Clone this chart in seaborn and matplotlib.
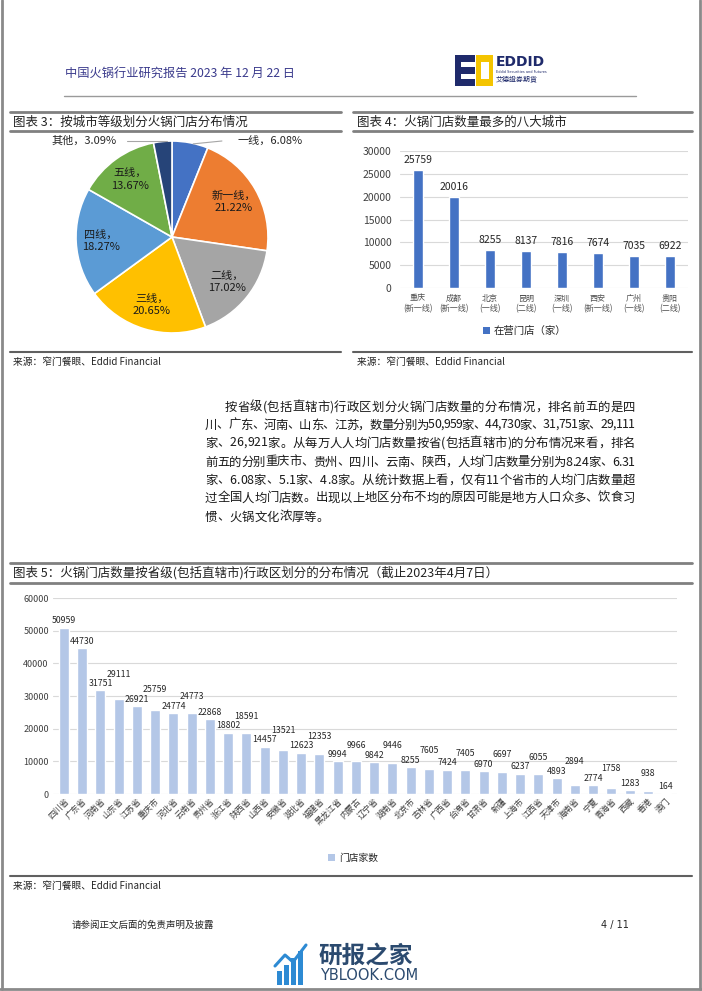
import matplotlib
matplotlib.use("Agg")
import matplotlib.pyplot as plt
import seaborn as sns
import pandas as pd
import numpy as np
from matplotlib.patches import Rectangle
from matplotlib.lines import Line2D

# ---------------- data ----------------
tier_labels = ['一线', '新一线', '二线', '三线', '四线', '五线', '其他']
tier_share = [6.08, 21.22, 17.02, 20.65, 18.27, 13.67, 3.09]
tier_colors = ['#4472C4', '#ED7D31', '#A5A5A5', '#FFC000', '#5B9BD5', '#70AD47', '#264478']

city_names = ['重庆', '成都', '北京', '昆明', '深圳', '西安', '广州', '贵阳']
city_tiers = ['新一线', '新一线', '一线', '二线', '一线', '新一线', '一线', '二线']
city_stores = [25759, 20016, 8255, 8137, 7816, 7674, 7035, 6922]
city_ticks = [0, 5000, 10000, 15000, 20000, 25000, 30000]

provinces = ['四川省', '广东省', '河南省', '山东省', '江苏省', '重庆市', '河北省', '云南省',
             '贵州省', '浙江省', '陕西省', '山西省', '安徽省', '湖北省', '福建省', '黑龙江省',
             '内蒙古', '辽宁省', '湖南省', '北京市', '吉林省', '广西省', '台湾省', '甘肃省',
             '新疆', '上海市', '江西省', '天津市', '海南省', '宁夏', '青海省', '西藏', '香港', '澳门']
province_stores = [50959, 44730, 31751, 29111, 26921, 25759, 24774, 24773, 22868, 18802,
                   18591, 14457, 13521, 12623, 12353, 9994, 9966, 9842, 9446, 8255,
                   7605, 7424, 7405, 6970, 6697, 6237, 6055, 4893, 2894, 2774,
                   1758, 1283, 938, 164]
province_ticks = [0, 10000, 20000, 30000, 40000, 50000, 60000]

paragraph = [
    "按省级(包括直辖市)行政区划分火锅门店数量的分布情况，排名前五的是四",
    "川、广东、河南、山东、江苏，数量分别为50,959家、44,730家、31,751家、29,111",
    "家、26,921家。从每万人人均门店数量按省(包括直辖市)的分布情况来看，排名",
    "前五的分别重庆市、贵州、四川、云南、陕西，人均门店数量分别为8.24家、6.31",
    "家、6.08家、5.1家、4.8家。从统计数据上看，仅有11个省市的人均门店数量超",
    "过全国人均门店数。出现以上地区分布不均的原因可能是地方人口众多、饮食习",
    "惯、火锅文化浓厚等。",
]

# ---------------- setup ----------------
sns.set_theme(style="white")
plt.rcParams['font.family'] = ['Noto Sans CJK SC', 'DejaVu Sans']

W, H = 702, 991
fig = plt.figure(figsize=(W / 100, H / 100), dpi=100)
fig.patch.set_facecolor('white')
renderer = fig.canvas.get_renderer()


def fx(x):
    return x / W


def fy(y):
    return 1 - y / H


def ax_px(l, t, r, b):
    return fig.add_axes([fx(l), fy(b), (r - l) / W, (b - t) / H])


def hline(x0, x1, y, lw=1.5, color='#7f7f7f'):
    fig.add_artist(Line2D([fx(x0), fx(x1)], [fy(y), fy(y)], lw=lw, color=color,
                          transform=fig.transFigure))


def vline(x, y0, y1, lw=1.5, color='#7f7f7f'):
    fig.add_artist(Line2D([fx(x), fx(x)], [fy(y0), fy(y1)], lw=lw, color=color,
                          transform=fig.transFigure))


def text(x, y, s, **kw):
    kw.setdefault('va', 'center')
    return fig.text(fx(x), fy(y), s, **kw)


def rect(x0, y0, x1, y1, color):
    fig.add_artist(Rectangle((fx(x0), fy(y1)), (x1 - x0) / W, (y1 - y0) / H,
                             facecolor=color, edgecolor='none', transform=fig.transFigure))


def char_width(ch, fs):
    t = fig.text(0, 0, ch, fontsize=fs)
    w = t.get_window_extent(renderer).width
    t.remove()
    return w


def justified(x0, x1, y, s, fs, color, justify=True):
    ws = [char_width(ch, fs) for ch in s]
    gap = (x1 - x0 - sum(ws)) / (len(s) - 1) if justify else 0.0
    x = x0
    for ch, w in zip(s, ws):
        text(x, y, ch, fontsize=fs, color=color, ha='left')
        x += w + gap


# page border
vline(1.5, 0, 989, lw=2, color='#8a8a8a')
vline(700, 0, 989, lw=2, color='#8a8a8a')
hline(0, 702, 989, lw=2, color='#8a8a8a')

# ---------------- header ----------------
text(65, 73, "中国火锅行业研究报告 2023 年 12 月 22 日", fontsize=8.8, color='#3a3a8c')
hline(64, 636, 96, lw=1.0, color='#9a9a9a')
# logo
rect(455, 55, 475, 86, '#1f2a6b')
rect(461, 62, 475, 67, 'white')
rect(461, 74, 475, 79, 'white')
rect(476, 55, 493, 86, '#f4c400')
rect(481, 62, 489, 79, 'white')
text(496, 62, "EDDID", fontsize=10, fontweight='bold', color='#1f2a6b', family=['DejaVu Sans'])
text(496, 72, "Eddid Securities and Futures", fontsize=2.5, color='#1f2a6b', family=['DejaVu Sans'])
text(496, 80, "艾德證券期貨", fontsize=5, color='#1f2a6b')

# ---------------- chart 3 frame ----------------
hline(10, 341, 112, lw=2, color='#808080')
text(13, 122, "图表 3：按城市等级划分火锅门店分布情况", fontsize=9, color='#222222')
hline(10, 341, 131, lw=2, color='#808080')
hline(10, 341, 352, lw=1.5, color='#606060')
text(13, 362, "来源：窄门餐眼、Eddid Financial", fontsize=7, color='#222222')

# ---------------- chart 4 frame ----------------
hline(353, 692, 112, lw=2, color='#808080')
text(357, 122, "图表 4：火锅门店数量最多的八大城市", fontsize=9, color='#222222')
hline(353, 692, 131, lw=2, color='#808080')
hline(353, 692, 352, lw=1.5, color='#606060')
text(357, 362, "来源：窄门餐眼、Eddid Financial", fontsize=7, color='#222222')

# ---------------- pie ----------------
cx, cy, R = 172, 237, 96
axp = ax_px(cx - R, cy - R, cx + R, cy + R)
axp.pie(tier_share, colors=tier_colors, startangle=90, counterclock=False, radius=1,
        wedgeprops=dict(edgecolor='white', linewidth=1.2))
axp.set_xlim(-1, 1)
axp.set_ylim(-1, 1)
axp.set_aspect('equal')
axp.axis('off')
cum = np.cumsum([0] + tier_share)
for i, (lab, v) in enumerate(zip(tier_labels, tier_share)):
    mid = np.deg2rad(90 - 3.6 * (cum[i] + v / 2))
    if lab == '一线':
        axp.plot([0.22, 0.52], [0.97, 1.0], color='#a6a6a6', lw=0.8, clip_on=False)
        axp.text(0.68, 1.0, f"{lab}，{v:.2f}%", fontsize=8, ha='left', va='center', clip_on=False)
    elif lab == '其他':
        axp.plot([-0.05, -0.47], [1.0, 1.0], color='#a6a6a6', lw=0.8, clip_on=False)
        axp.text(-0.58, 1.0, f"{lab}，{v:.2f}%", fontsize=8, ha='right', va='center', clip_on=False)
    else:
        r = 0.74
        axp.text(r * np.cos(mid), r * np.sin(mid), f"{lab}，\n{v:.2f}%", fontsize=8,
                 ha='center', va='center', linespacing=1.3, color='#1a1a1a')

# ---------------- chart 4 bars ----------------
ax4 = ax_px(400, 151, 688, 288)
df4 = pd.DataFrame({'city': [f"{c}\n({t})" for c, t in zip(city_names, city_tiers)],
                    'stores': city_stores})
sns.barplot(data=df4, x='city', y='stores', color='#4472C4', saturation=1, width=0.28, ax=ax4)
ax4.set_ylim(0, 30000)
ax4.set_yticks(city_ticks)
ax4.set_yticklabels([str(t) for t in city_ticks], fontsize=7.5, color='#404040')
ax4.tick_params(axis='x', labelsize=5.8, labelcolor='#505050', length=0, pad=4)
ax4.tick_params(axis='y', length=0, pad=6)
ax4.set_xlabel('')
ax4.set_ylabel('')
ax4.grid(axis='y', color='#d9d9d9', lw=0.8)
ax4.set_axisbelow(True)
for s in ax4.spines.values():
    s.set_visible(False)
for i, v in enumerate(city_stores):
    ax4.text(i, v + 1100, str(v), ha='center', va='bottom', fontsize=7.5, color='#262626')
rect(483, 327, 490, 334, '#4472C4')
text(494, 331, "在营门店（家）", fontsize=7.5, color='#262626')

# ---------------- paragraph ----------------
ys = [407, 425, 443, 462, 480, 498, 517]
for k, (line, y) in enumerate(zip(paragraph, ys)):
    x0 = 225 if k == 0 else 205
    last = (k == len(paragraph) - 1)
    justified(x0, 635, y, line, 8.9, '#1a1a1a', justify=not last)

# ---------------- chart 5 frame ----------------
hline(10, 692, 563, lw=2, color='#808080')
text(13, 573, "图表 5：火锅门店数量按省级(包括直辖市)行政区划分的分布情况（截止2023年4月7日）",
     fontsize=9, color='#222222')
hline(10, 692, 583, lw=2, color='#808080')
hline(10, 692, 876, lw=1.5, color='#606060')
text(13, 886, "来源：窄门餐眼、Eddid Financial", fontsize=7, color='#222222')

# ---------------- chart 5 bars ----------------
ax5 = ax_px(53, 598, 677, 794)
df5 = pd.DataFrame({'prov': provinces, 'stores': province_stores})
sns.barplot(data=df5, x='prov', y='stores', color='#B4C7E7', saturation=1, width=0.55, ax=ax5)
ax5.set_ylim(0, 60000)
ax5.set_xlim(-0.6, len(provinces) - 0.4)
ax5.set_yticks(province_ticks)
ax5.set_yticklabels([str(t) for t in province_ticks], fontsize=6.5, color='#404040')
ax5.tick_params(axis='y', length=0, pad=3)
ax5.tick_params(axis='x', length=0, pad=2)
plt.setp(ax5.get_xticklabels(), rotation=45, ha='right', rotation_mode='anchor',
         fontsize=6, color='#404040')
ax5.set_xlabel('')
ax5.set_ylabel('')
ax5.grid(axis='y', color='#d9d9d9', lw=0.8)
ax5.set_axisbelow(True)
for s in ax5.spines.values():
    s.set_visible(False)
# staggered data labels to avoid collisions (like the original)
h_units = 2900
prev = None
for i, v in enumerate(province_stores):
    y = v + 700
    if prev is not None and abs(y - prev) < h_units:
        y = prev + h_units
    ax5.text(i, y, str(v), ha='center', va='bottom', fontsize=6.3, color='#262626')
    prev = y
rect(328, 854, 335, 861, '#B4C7E7')
text(339, 857.5, "门店家数", fontsize=7, color='#262626')

# ---------------- footer ----------------
text(72, 925, "请参阅正文后面的免责声明及披露", fontsize=6.8, color='#262626')
text(601, 925, "4 / 11", fontsize=7, color='#262626', family=['DejaVu Sans'])

# watermark
wm = '#2d8ad3'
for j, hgt in enumerate([14, 20, 27, 34]):
    rect(277 + j * 7, 985 - hgt, 282 + j * 7, 985, wm)
fig.add_artist(Line2D([fx(275), fx(285), fx(293), fx(306)], [fy(966), fy(955), fy(962), fy(945)],
                      color=wm, lw=2.2, transform=fig.transFigure))
text(318, 956, "研报之家", fontsize=17, color='#2b4a6f', fontweight='bold')
text(320, 976, "YBLOOK.COM", fontsize=10.5, color='#2b4a6f', family=['DejaVu Sans'])

fig.savefig('out.png', dpi=100, facecolor='white')
